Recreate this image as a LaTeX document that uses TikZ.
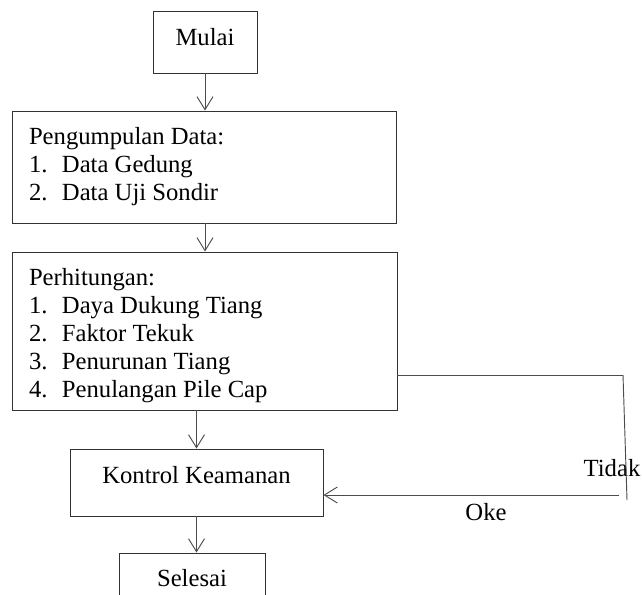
\documentclass[tikz,border=0pt]{standalone}
\usepackage{fontspec}
\setmainfont{Liberation Serif}
\usetikzlibrary{arrows.meta}

\newcommand{\butir}[1]{\makebox[24.75pt][l]{#1}}
\newcommand{\turun}{\rule{0pt}{20pt}}

\begin{document}
\begin{tikzpicture}[x=0.75pt,y=-0.75pt]
        \useasboundingbox (0,0) rectangle (642,594);
        \clip (0,0) rectangle (642,594);

        \begin{scope}[every node/.style = {rectangle, draw=black!80, line width=0.7pt,
                        inner sep=0pt, font=\fontsize{18.5}{21}\selectfont}]
            \node (mulai) at (205,42) [minimum width=78pt, minimum height=46.5pt,
                text depth=7.5pt] {Mulai};

            \node (data) at (204,167) [minimum height=84pt, inner xsep=12.75pt,
                text width=262.5pt, align=flush left]
                {Pengumpulan Data:\\
                 \butir{1.}Data Gedung\\
                 \butir{2.}Data Uji Sondir};

            \node (hitung) at (204.5,331) [minimum height=118.5pt, inner xsep=12.75pt,
                text width=263.25pt, align=flush left]
                {\turun Perhitungan:\\
                 \butir{1.}Daya Dukung Tiang\\
                 \butir{2.}Faktor Tekuk\\
                 \butir{3.}Penurunan Tiang\\
                 \butir{4.}Penulangan Pile Cap};

            \node (kontrol) at (196.5,482.5) [minimum width=189.75pt, minimum height=50.25pt,
                text depth=11.2pt] {Kontrol Keamanan};

            \node (selesai) at (192,578) [minimum width=109.5pt, minimum height=37.5pt] {Selesai};
        \end{scope}

        \begin{scope}[every node/.style = {font=\fontsize{18.5}{21}\selectfont}]
            \node (tidak) at (612,468) {Tidak};
            \node (oke)   at (486,512) {Oke};
        \end{scope}

        \coordinate (t1) at (623,375);
        \coordinate (t2) at (627,500);
        \coordinate (t3) at (619,495);

        \begin{scope}[>={Straight Barb[length=9.75pt,width=12pt]},
                        every edge/.style={draw=black!70, line width=0.7pt}]
            \path [->] (mulai.south) edge (mulai.south |- data.north);
            \path [->] (data.south -| mulai.south) edge (mulai.south |- hitung.north);
            \path [->] (kontrol.north |- hitung.south) edge (kontrol.north);
            \path [->] (kontrol.south) edge (kontrol.south |- selesai.north);

            \path (hitung.east |- t1) edge (t1);
            \path (t1) edge (t2);
            \path [->] (t3) edge (kontrol.east |- t3);
        \end{scope}
    \end{tikzpicture}
\end{document}
